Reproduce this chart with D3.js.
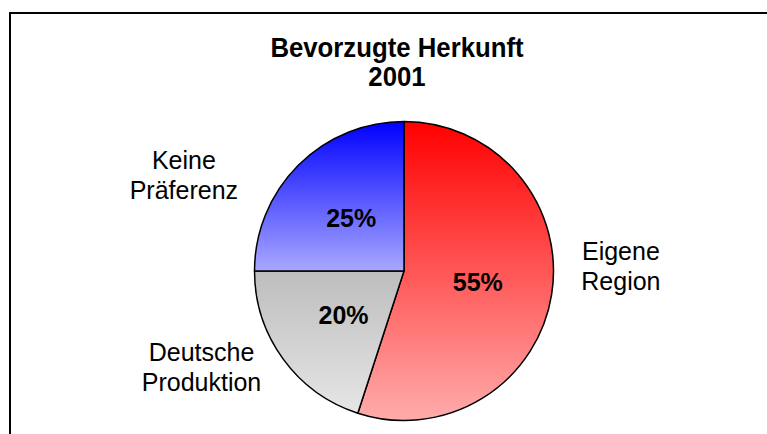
<!DOCTYPE html>
<html>
<head>
<meta charset="utf-8">
<script src="https://cdn.jsdelivr.net/npm/d3@7"></script>
<style>
  body { margin: 0; background: #fff; }
  svg { display: block; font-family: Arial, "Liberation Sans", sans-serif; }
</style>
</head>
<body>
<svg id="chart"></svg>
<script>
// chart data
var categories = ["Eigene Region", "Deutsche Produktion", "Keine Präferenz"];
var values = [55, 20, 25];
var labelLines = [["Eigene", "Region"], ["Deutsche", "Produktion"], ["Keine", "Präferenz"]];
var titleLines = ["Bevorzugte Herkunft", "2001"];

// gradient top/bottom colours per slice
var gradTop = ["#ff0000", "#bdbdbd", "#0000ff"];
var gradBottom = ["#ffacac", "#e6e6e6", "#a8a8ff"];

var width = 767, height = 434;
var cx = 404, cy = 271, radius = 149.5;

var svg = d3.select("#chart")
    .attr("width", width)
    .attr("height", height);

// frame, runs off the right and bottom edges like the original export
svg.append("rect")
    .attr("x", 10)
    .attr("y", 13)
    .attr("width", width + 20)
    .attr("height", height + 20)
    .attr("fill", "#fff")
    .attr("stroke", "#000")
    .attr("stroke-width", 2);

var defs = svg.append("defs");
categories.forEach(function (c, i) {
    var g = defs.append("linearGradient")
        .attr("id", "grad" + i)
        .attr("x1", 0).attr("y1", 0)
        .attr("x2", 0).attr("y2", 1);
    g.append("stop").attr("offset", "0%").attr("stop-color", gradTop[i]);
    g.append("stop").attr("offset", "100%").attr("stop-color", gradBottom[i]);
});

// title (slightly condensed, taller glyphs as in the export)
var title = svg.append("g")
    .attr("transform", "translate(397,0) scale(0.92,1)")
    .append("text")
    .attr("text-anchor", "middle")
    .attr("font-weight", "bold")
    .attr("font-size", 28)
    .attr("fill", "#000");
titleLines.forEach(function (t, i) {
    title.append("tspan")
        .attr("x", 0)
        .attr("y", 57 + i * 29)
        .text(t);
});

var pie = d3.pie().sort(null).value(function (d) { return d; });
var arcs = pie(values);
var total = d3.sum(values);

var arc = d3.arc().innerRadius(0).outerRadius(radius);
var outer = d3.arc().innerRadius(radius + 60).outerRadius(radius + 60);

var g = svg.append("g").attr("transform", "translate(" + cx + "," + cy + ")");

g.selectAll("path.slice")
    .data(arcs)
    .enter().append("path")
    .attr("class", "slice")
    .attr("d", arc)
    .attr("fill", function (d, i) { return "url(#grad" + i + ")"; })
    .attr("stroke", "#000")
    .attr("stroke-width", 1.5)
    .attr("stroke-linejoin", "round");

// percentage labels inside
g.selectAll("text.pct")
    .data(arcs)
    .enter().append("text")
    .attr("class", "pct")
    .attr("transform", function (d) { return "translate(" + arc.centroid(d) + ")"; })
    .attr("dy", "0.35em")
    .attr("text-anchor", "middle")
    .attr("font-weight", "bold")
    .attr("font-size", 25)
    .text(function (d) { return Math.round(d.value / total * 100) + "%"; });

// category labels outside (Excel best-fit placement, nudged)
var nudge = [[10, -38], [-33, -27], [-72, 52]];
var lineH = 30;
g.selectAll("text.cat")
    .data(arcs)
    .enter().append("text")
    .attr("class", "cat")
    .attr("text-anchor", "middle")
    .attr("font-size", 25)
    .each(function (d, i) {
        var p = outer.centroid(d);
        var x = p[0] + nudge[i][0];
        var y = p[1] + nudge[i][1];
        var lines = labelLines[i];
        var t = d3.select(this);
        lines.forEach(function (l, j) {
            t.append("tspan")
                .attr("x", x)
                .attr("y", y - (lines.length - 1) * lineH / 2 + j * lineH)
                .attr("dy", "0.35em")
                .text(l);
        });
    });
</script>
</body>
</html>
